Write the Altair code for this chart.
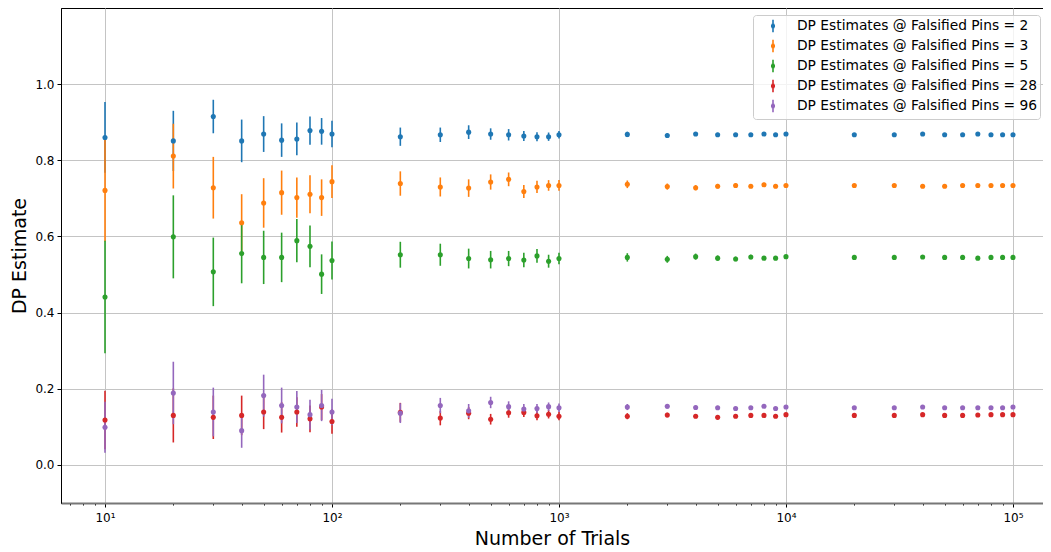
import altair as alt
import pandas as pd

trials = [10, 20, 30, 40, 50, 60, 70, 80, 90,
          100, 200, 300, 400, 500, 600, 700, 800, 900,
          1000, 2000, 3000, 4000, 5000, 6000, 7000, 8000, 9000,
          10000, 20000, 30000, 40000, 50000, 60000, 70000, 80000, 90000,
          100000]

series_names = [
    "DP Estimates @ Falsified Pins = 2",
    "DP Estimates @ Falsified Pins = 3",
    "DP Estimates @ Falsified Pins = 5",
    "DP Estimates @ Falsified Pins = 28",
    "DP Estimates @ Falsified Pins = 96",
]
colors = ["#1f77b4", "#ff7f0e", "#2ca02c", "#d62728", "#9467bd"]

mean_2 = [0.860, 0.851, 0.915, 0.851, 0.869, 0.853, 0.856, 0.878, 0.876,
          0.869, 0.862, 0.867, 0.874, 0.869, 0.867, 0.864, 0.862, 0.862,
          0.867, 0.868, 0.865, 0.869, 0.867, 0.867, 0.867, 0.869, 0.867,
          0.869, 0.867, 0.867, 0.869, 0.867, 0.867, 0.869, 0.867, 0.867,
          0.867]
err_2 = [0.093, 0.079, 0.044, 0.056, 0.047, 0.044, 0.043, 0.037, 0.035,
         0.035, 0.024, 0.019, 0.018, 0.015, 0.015, 0.013, 0.012, 0.011,
         0.010, 0.007, 0.006, 0.005, 0.005, 0.004, 0.004, 0.004, 0.003,
         0.003, 0.002, 0.002, 0.002, 0.002, 0.001, 0.001, 0.001, 0.001,
         0.001]

mean_3 = [0.721, 0.811, 0.728, 0.636, 0.688, 0.715, 0.702, 0.711, 0.702,
          0.744, 0.739, 0.730, 0.727, 0.743, 0.750, 0.718, 0.730, 0.734,
          0.734, 0.737, 0.731, 0.728, 0.732, 0.734, 0.732, 0.736, 0.732,
          0.734, 0.734, 0.734, 0.732, 0.732, 0.734, 0.734, 0.734, 0.734,
          0.734]
err_3 = [0.134, 0.085, 0.081, 0.075, 0.065, 0.058, 0.053, 0.050, 0.048,
         0.043, 0.032, 0.025, 0.023, 0.020, 0.018, 0.017, 0.016, 0.014,
         0.014, 0.010, 0.008, 0.007, 0.006, 0.006, 0.005, 0.005, 0.005,
         0.004, 0.003, 0.003, 0.002, 0.002, 0.002, 0.002, 0.002, 0.001,
         0.001]

mean_5 = [0.441, 0.599, 0.507, 0.555, 0.545, 0.545, 0.589, 0.574, 0.501,
          0.537, 0.552, 0.552, 0.542, 0.539, 0.542, 0.538, 0.549, 0.535,
          0.542, 0.545, 0.540, 0.547, 0.543, 0.541, 0.546, 0.543, 0.543,
          0.547, 0.545, 0.545, 0.546, 0.545, 0.545, 0.543, 0.545, 0.545,
          0.545]
err_5 = [0.148, 0.109, 0.090, 0.078, 0.070, 0.065, 0.057, 0.055, 0.052,
         0.050, 0.034, 0.029, 0.026, 0.023, 0.020, 0.019, 0.018, 0.017,
         0.015, 0.011, 0.009, 0.008, 0.007, 0.006, 0.006, 0.005, 0.005,
         0.005, 0.003, 0.003, 0.003, 0.002, 0.002, 0.002, 0.002, 0.002,
         0.002]

mean_28 = [0.118, 0.130, 0.125, 0.130, 0.139, 0.125, 0.139, 0.121, 0.152,
           0.114, 0.138, 0.123, 0.136, 0.120, 0.137, 0.138, 0.129, 0.133,
           0.128, 0.128, 0.131, 0.128, 0.125, 0.128, 0.130, 0.130, 0.128,
           0.132, 0.130, 0.130, 0.132, 0.130, 0.130, 0.131, 0.132, 0.132,
           0.132]
err_28 = [0.077, 0.071, 0.057, 0.052, 0.045, 0.040, 0.039, 0.035, 0.034,
          0.032, 0.025, 0.019, 0.016, 0.014, 0.013, 0.012, 0.012, 0.011,
          0.011, 0.008, 0.006, 0.005, 0.005, 0.004, 0.004, 0.004, 0.004,
          0.003, 0.002, 0.002, 0.002, 0.002, 0.002, 0.001, 0.001, 0.001,
          0.001]

mean_96 = [0.099, 0.189, 0.139, 0.090, 0.182, 0.156, 0.152, 0.132, 0.156,
           0.139, 0.136, 0.156, 0.142, 0.164, 0.153, 0.147, 0.148, 0.153,
           0.150, 0.152, 0.154, 0.151, 0.150, 0.148, 0.150, 0.154, 0.148,
           0.152, 0.150, 0.150, 0.152, 0.150, 0.150, 0.150, 0.150, 0.150,
           0.152]
err_96 = [0.067, 0.082, 0.064, 0.045, 0.055, 0.047, 0.042, 0.039, 0.041,
          0.035, 0.026, 0.020, 0.018, 0.015, 0.014, 0.013, 0.012, 0.011,
          0.011, 0.008, 0.006, 0.005, 0.005, 0.004, 0.004, 0.004, 0.004,
          0.003, 0.002, 0.002, 0.002, 0.002, 0.002, 0.001, 0.001, 0.001,
          0.001]

x_tick_values = [7, 8, 9, 10, 20, 30, 40, 50, 60, 70, 80, 90,
                 100, 200, 300, 400, 500, 600, 700, 800, 900,
                 1000, 2000, 3000, 4000, 5000, 6000, 7000, 8000, 9000,
                 10000, 20000, 30000, 40000, 50000, 60000, 70000, 80000, 90000,
                 100000]
y_tick_values = [0.0, 0.2, 0.4, 0.6, 0.8, 1.0]

all_means = [mean_2, mean_3, mean_5, mean_28, mean_96]
all_errs = [err_2, err_3, err_5, err_28, err_96]

rows = []
for i, (name, means, errs) in enumerate(zip(series_names, all_means, all_errs)):
    for t, m, e in zip(trials, means, errs):
        rows.append({"trials": t, "est": m, "lo": m - e, "hi": m + e,
                     "series": name, "order": i})
df = pd.DataFrame(rows)

FONT = "DejaVu Sans"
major = "abs(log(datum.value)/LN10 - round(log(datum.value)/LN10)) < 1e-6"
label_expr = ("datum.value == 10 ? '10\u00b9' : datum.value == 100 ? '10\u00b2' : "
              "datum.value == 1000 ? '10\u00b3' : datum.value == 10000 ? '10\u2074' : "
              "datum.value == 100000 ? '10\u2075' : ''")

x_enc = alt.X(
    "trials:Q",
    scale=alt.Scale(type="log", domain=[6.4, 135600], nice=False),
    axis=alt.Axis(
        title="Number of Trials",
        values=x_tick_values,
        labelExpr=label_expr,
        labelOverlap=False,
        labelFlush=False,
        tickSize={"condition": {"test": major, "value": 4}, "value": 2},
        gridOpacity={"condition": {"test": major, "value": 1}, "value": 0},
        labelPadding=5,
        titlePadding=6,
        domainColor="#777777",
        domainWidth=2,
    ),
)
y_scale = alt.Scale(domain=[-0.1, 1.2], nice=False, zero=False)
y_axis = alt.Axis(
    title="DP Estimate",
    values=y_tick_values,
    format=".1f",
    tickSize=4,
    labelPadding=3,
    titlePadding=5,
    domainColor="black",
)

color_scale = alt.Scale(domain=series_names, range=colors)
legend_symbol = ("M0,-0.95L0,0.95"
                 "M-0.22,-0.2L0.22,-0.2M-0.3,-0.07L0.3,-0.07"
                 "M-0.3,0.07L0.3,0.07M-0.22,0.2L0.22,0.2")

rules = alt.Chart(df).mark_rule(strokeWidth=1.6).encode(
    x=x_enc,
    y=alt.Y("lo:Q", scale=y_scale, axis=y_axis),
    y2="hi:Q",
    color=alt.Color(
        "series:N", scale=color_scale, sort=series_names,
        legend=alt.Legend(
            title=None,
            orient="none",
            legendX=692,
            legendY=7,
            symbolType=legend_symbol,
            symbolSize=180,
            symbolStrokeWidth=1.6,
            symbolOffset=9,
            labelFontSize=13.8,
            labelFont=FONT,
            labelColor="#000000",
            labelOffset=16,
            labelLimit=400,
            rowPadding=0,
            padding=3,
            fillColor="rgba(255,255,255,0.8)",
            strokeColor="#cccccc",
            cornerRadius=3,
        ),
    ),
    order="order:Q",
)

points = alt.Chart(df).mark_circle(size=26, opacity=1).encode(
    x=x_enc,
    y=alt.Y("est:Q", scale=y_scale),
    color=alt.Color("series:N", scale=color_scale, sort=series_names, legend=None),
    order="order:Q",
)

chart = alt.layer(rules, points).properties(
    width=982,
    height=495,
    autosize=alt.AutoSizeParams(type="none"),
    padding={"left": 53, "top": 0, "right": 0, "bottom": 47},
).configure_view(
    stroke="black", strokeWidth=1
).configure_axis(
    labelFont=FONT,
    labelFontSize=12,
    labelColor="#000000",
    titleFont=FONT,
    titleFontSize=19,
    titleFontWeight="normal",
    titleColor="#000000",
    tickColor="#000000",
    gridColor="#c4c4c4",
    gridWidth=1,
)

chart.save("out.html", embed_options={"renderer": "svg", "actions": False})
